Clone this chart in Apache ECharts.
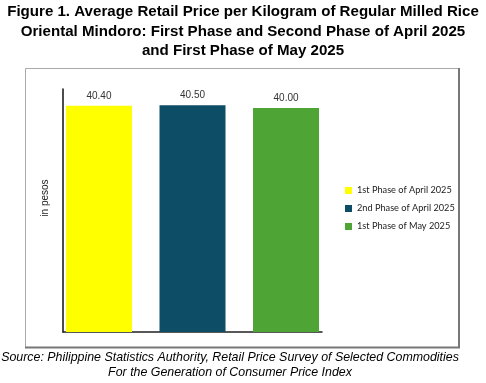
<!DOCTYPE html>
<html><head><meta charset="utf-8">
<script src="https://cdn.jsdelivr.net/npm/echarts@6/dist/echarts.min.js"></script>
<style>html,body{margin:0;padding:0;background:#fff}#c{width:486px;height:383px}</style>
</head><body><div id="c"></div>
<script>
const categories = ['Average Retail Price'];
const seriesNames = ['1st Phase of April 2025', '2nd Phase of April 2025', '1st Phase of May 2025'];
const seriesValues = [40.40, 40.50, 40.00];
const colors = ['#FFFF00', '#0E4D66', '#4EA434'];
const titleLines = ['Figure 1. Average Retail Price per Kilogram of Regular Milled Rice', 'Oriental Mindoro: First Phase and Second Phase of April 2025', 'and First Phase of May 2025'];
const sourceLines = ['Source: Philippine Statistics Authority, Retail Price Survey of Selected Commodities', 'For the Generation of Consumer Price Index'];
const yName = 'in pesos';

const chart = echarts.init(document.getElementById('c'), null, {renderer: 'canvas'});
const series = seriesNames.map((n, i) => ({
  name: n, type: 'bar', data: [seriesValues[i]],
  itemStyle: {color: colors[i]},
  barWidth: 66, barGap: '41.7%',
  label: {show: true, position: 'top', distance: 5, formatter: p => p.value.toFixed(2),
    color: '#333', fontFamily: 'Liberation Sans', fontSize: 10}
}));
chart.setOption({
  animation: false,
  graphic: [
    {type: 'rect', shape: {x: 25.5, y: 68.5, width: 433, height: 279},
     style: {fill: 'none', stroke: '#aaa', lineWidth: 1}},
    {type: 'line', shape: {x1: 459, y1: 68, x2: 459, y2: 348}, style: {stroke: '#777', lineWidth: 2}},
    {type: 'line', shape: {x1: 25, y1: 347.5, x2: 460, y2: 347.5}, style: {stroke: '#777', lineWidth: 2}},
    ...titleLines.map((t, i) => ({type: 'text', x: 243, y: 12 + i * 19.5,
      style: {text: t, font: 'bold 15.1px "Liberation Sans"', fill: '#000', align: 'center', verticalAlign: 'middle'}})),
    ...sourceLines.map((t, i) => ({type: 'text', x: 230, y: 358 + i * 15,
      style: {text: t, font: 'italic 12.4px "Liberation Sans"', fill: '#000', align: 'center', verticalAlign: 'middle'}})),
    {type: 'text', x: 45, y: 198, rotation: Math.PI / 2,
      style: {text: yName, font: '10px "Liberation Sans"', fill: '#222', align: 'center', verticalAlign: 'middle'}}
  ],
  legend: {orient: 'vertical', left: 340, top: 181, itemWidth: 7, itemHeight: 7, itemGap: 9,
    icon: 'rect', textStyle: {fontFamily: 'Lato', fontSize: 9.2, color: '#222'}, data: seriesNames},
  grid: {left: 63, top: 89, width: 259, height: 243},
  xAxis: {type: 'category', data: categories, axisLine: {lineStyle: {color: '#222', width: 1.5}},
    axisTick: {show: false}, axisLabel: {show: false}},
  yAxis: {type: 'value', min: 0, max: 43.4,
    axisLine: {show: true, lineStyle: {color: '#111', width: 1.5}}, axisTick: {show: false},
    axisLabel: {show: false}, splitLine: {show: false}},
  series
});
</script></body></html>
